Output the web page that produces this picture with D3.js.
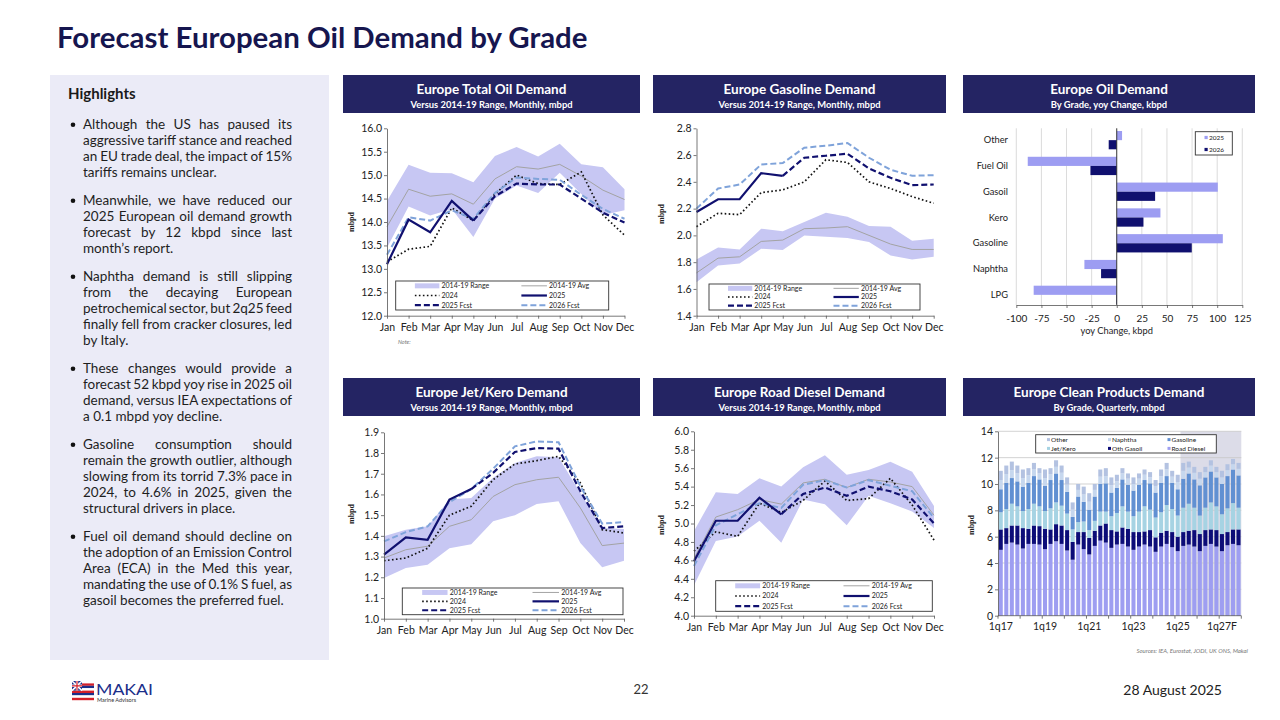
<!DOCTYPE html>
<html>
<head>
<meta charset="utf-8">
<script src="https://cdn.jsdelivr.net/npm/d3@7"></script>
<style>
  body { margin: 0; background: #fff; }
  svg { display: block; font-family: Lato, "Open Sans", sans-serif; }
</style>
</head>
<body>
<svg id="page" width="1280" height="720"></svg>
<script>
// ---- data ----
const months = ["Jan","Feb","Mar","Apr","May","Jun","Jul","Aug","Sep","Oct","Nov","Dec"];
const legendLabels = ["2014-19 Range","2014-19 Avg","2024","2025","2025 Fcst","2026 Fcst"];

// Europe total oil demand, mbpd
const totLo   = [13.45,14.33,14.14,14.28,13.68,14.5,14.78,14.62,15.05,14.6,14.15,14.25];
const totHi   = [14.45,15.22,15.05,15.04,14.85,15.41,15.6,15.4,15.67,15.23,15.17,14.7];
const totAvg  = [13.9,14.7,14.55,14.6,14.38,14.92,15.18,15.13,15.23,14.98,14.68,14.48];
const tot2024 = [13.15,13.42,13.48,14.3,14.03,14.6,15.0,14.82,14.8,15.07,14.15,13.72];
const tot2025 = [13.1,14.05,13.78,14.45,14.03,null,null,null,null,null,null,null];
const tot2025F= [null,null,null,null,14.03,14.55,14.82,14.8,14.8,14.5,14.2,13.99];
const tot2026F= [13.3,14.1,14.03,14.25,14.07,14.62,14.95,14.92,14.9,14.58,14.28,14.07];
const totTicks = [12.0,12.5,13.0,13.5,14.0,14.5,15.0,15.5,16.0];

// Europe gasoline demand, mbpd
const gasLo   = [1.65,1.775,1.79,1.9,1.89,2.0,1.99,1.98,1.95,1.85,1.82,1.84];
const gasHi   = [1.82,1.91,1.895,2.05,2.03,2.1,2.17,2.14,2.07,2.065,1.96,1.975];
const gasAvg  = [1.72,1.83,1.84,1.955,1.965,2.05,2.055,2.065,2.0,1.935,1.895,1.895];
const gas2024 = [2.065,2.165,2.155,2.32,2.34,2.4,2.565,2.545,2.4,2.35,2.29,2.24];
const gas2025 = [2.175,2.27,2.27,2.465,2.445,null,null,null,null,null,null,null];
const gas2025F= [null,null,null,null,2.445,2.58,2.595,2.61,2.5,2.43,2.375,2.38];
const gas2026F= [2.2,2.35,2.38,2.53,2.54,2.655,2.67,2.69,2.58,2.49,2.445,2.45];
const gasTicks = [1.4,1.6,1.8,2.0,2.2,2.4,2.6,2.8];

// Europe jet/kero demand, mbpd
const jetLo   = [1.196,1.245,1.26,1.34,1.36,1.47,1.5,1.554,1.567,1.365,1.248,1.28];
const jetHi   = [1.398,1.43,1.446,1.575,1.583,1.68,1.752,1.784,1.78,1.607,1.438,1.433];
const jetAvg  = [1.293,1.333,1.35,1.446,1.478,1.59,1.647,1.671,1.683,1.535,1.353,1.365];
const jet2024 = [1.28,1.293,1.34,1.5,1.543,1.671,1.747,1.763,1.784,1.655,1.43,1.414];
const jet2025 = [1.309,1.393,1.381,1.575,1.626,null,null,null,null,null,null,null];
const jet2025F= [null,null,null,null,1.626,1.704,1.805,1.824,1.821,1.615,1.438,1.446];
const jet2026F= [1.373,1.418,1.446,1.563,1.626,1.724,1.832,1.856,1.852,1.64,1.459,1.467];
const jetTicks = [1.0,1.1,1.2,1.3,1.4,1.5,1.6,1.7,1.8,1.9];

// Europe road diesel demand, mbpd
const dslLo   = [4.33,4.81,4.86,5.03,4.79,5.26,5.21,4.98,5.3,5.22,5.13,4.95];
const dslHi   = [4.92,5.34,5.32,5.49,5.4,5.61,5.74,5.53,5.58,5.67,5.56,5.19];
const dslAvg  = [4.62,5.07,5.15,5.26,5.21,5.44,5.48,5.39,5.48,5.45,5.4,5.09];
const dsl2024 = [4.7,4.91,4.86,5.22,5.12,5.25,5.46,5.25,5.27,5.49,5.2,4.82];
const dsl2025 = [4.59,5.03,5.03,5.28,5.1,null,null,null,null,null,null,null];
const dsl2025F= [null,null,null,null,5.1,5.32,5.39,5.3,5.4,5.35,5.26,5.0];
const dsl2026F= [4.54,4.98,5.1,5.22,5.17,5.42,5.47,5.39,5.47,5.41,5.35,5.06];
const dslTicks = [4.0,4.2,4.4,4.6,4.8,5.0,5.2,5.4,5.6,5.8,6.0];

// Europe oil demand by grade, yoy change, kbpd
const grades    = ["Other","Fuel Oil","Gasoil","Kero","Gasoline","Naphtha","LPG"];
const grade2025 = [5.3,-88.6,100.6,43.5,105.6,-32.2,-82.7];
const grade2026 = [-8,-26.2,38.2,26.6,74.7,-15.6,-0.5];
const gradeTicks = [-100,-75,-50,-25,0,25,50,75,100,125];

// Europe clean products demand by grade, quarterly, mbpd
const quarters = ["1q17","2q17","3q17","4q17","1q18","2q18","3q18","4q18","1q19","2q19","3q19","4q19",
  "1q20","2q20","3q20","4q20","1q21","2q21","3q21","4q21","1q22","2q22","3q22","4q22",
  "1q23","2q23","3q23","4q23","1q24","2q24","3q24","4q24","1q25","2q25","3q25","4q25",
  "1q26","2q26","3q26","4q26","1q27","2q27","3q27","4q27"];
const cpRoadDiesel = [5.0,5.45,5.55,5.4, 5.1,5.45,5.45,5.4, 5.05,5.45,5.65,5.45, 4.95,4.25,5.4,5.05,
  4.65,5.3,5.7,5.55, 5.15,5.4,5.45,5.25, 5.0,5.25,5.4,5.25, 4.85,5.25,5.45,5.2, 4.9,5.3,5.4,5.25,
  4.9,5.3,5.45,5.25, 4.9,5.35,5.45,5.35];
const cpOthGasoil = [1.55,1.2,1.3,1.45, 1.55,1.15,1.4,1.4, 1.55,1.1,1.3,1.4, 1.55,1.35,0.95,1.3,
  1.25,1.15,1.15,1.45, 1.35,1.0,1.25,1.35, 1.35,1.1,1.0,1.25, 1.1,1.05,1.0,1.15, 1.1,1.05,1.05,1.25,
  1.3,1.2,1.1,1.25, 1.3,1.0,1.1,1.2];
const cpJetKero = [1.3,1.45,1.65,1.45, 1.3,1.5,1.65,1.5, 1.35,1.6,1.65,1.5, 1.25,0.95,0.75,0.8,
  0.6,0.75,1.05,0.9, 1.05,1.4,1.6,1.3, 1.2,1.55,1.9,1.55, 1.5,1.55,1.95,1.75, 1.6,1.85,2.05,1.7,
  1.4,1.7,2.05,1.8, 1.5,1.8,2.0,1.65];
const cpGasoline = [1.75,2.0,1.95,1.9, 1.85,2.0,2.1,2.05, 1.9,2.15,2.2,1.95, 1.65,0.95,1.95,1.5,
  1.55,1.85,2.1,2.15, 1.8,1.9,2.05,2.05, 1.95,2.05,2.0,2.0, 1.9,2.25,2.2,2.0, 2.0,2.2,2.3,2.15,
  2.3,2.3,2.35,2.2, 2.3,2.45,2.55,2.45];
const cpNaphtha = [0.7,0.65,0.6,0.6, 0.65,0.55,0.5,0.45, 0.6,0.45,0.5,0.55, 0.55,0.55,0.5,0.55,
  0.6,0.5,0.55,0.55, 0.55,0.5,0.45,0.45, 0.5,0.45,0.4,0.45, 0.5,0.5,0.5,0.45, 0.55,0.6,0.45,0.5,
  0.5,0.4,0.45,0.4, 0.5,0.45,0.4,0.5];
const cpOther = [0.7,0.65,0.65,0.6, 0.65,0.55,0.5,0.4, 0.65,0.45,0.5,0.55, 0.55,0.55,0.45,0.6,
  0.65,0.45,0.55,0.6, 0.6,0.5,0.4,0.4, 0.5,0.4,0.4,0.4, 0.45,0.5,0.5,0.45, 0.55,0.6,0.45,0.45,
  0.5,0.4,0.4,0.4, 0.5,0.45,0.4,0.45];
const cpTicks = [0,2,4,6,8,10,12,14];
const cpTickQ = ["1q17","1q19","1q21","1q23","1q25","1q27"];
const cpTickText = ["1q17","1q19","1q21","1q23","1q25","1q27F"];
const cpFirstFcst = "2q25";

// highlights, one entry per printed line
const highlights = [
  ["Although the US has paused its", "aggressive tariff stance and reached", "an EU trade deal, the impact of 15%", "tariffs remains unclear."],
  ["Meanwhile, we have reduced our", "2025 European oil demand growth", "forecast by 12 kbpd since last", "month\u2019s report."],
  ["Naphtha demand is still slipping", "from the decaying European", "petrochemical sector, but 2q25 feed", "finally fell from cracker closures, led", "by Italy."],
  ["These changes would provide a", "forecast 52 kbpd yoy rise in 2025 oil", "demand, versus IEA expectations of", "a 0.1 mbpd yoy decline."],
  ["Gasoline consumption should", "remain the growth outlier, although", "slowing from its torrid 7.3% pace in", "2024, to 4.6% in 2025, given the", "structural drivers in place."],
  ["Fuel oil demand should decline on", "the adoption of an Emission Control", "Area (ECA) in the Med this year,", "mandating the use of 0.1% S fuel, as", "gasoil becomes the preferred fuel."]
];

// ---- colours ----
const NAVY = "#10106f", LIGHTB = "#7fa3da", BAND = "#c7c7f3", AVG = "#a3a3a3", HEAD = "#242463";

const svg = d3.select("#page");

// page title
svg.append("text").attr("x", 57).attr("y", 48)
  .attr("font-size", 29.4).attr("font-weight", 700).attr("fill", "#16164f")
  .text("Forecast European Oil Demand by Grade");

// highlights panel
svg.append("rect").attr("x", 50).attr("y", 75).attr("width", 279).attr("height", 585).attr("fill", "#ebebf7");
svg.append("text").attr("x", 68).attr("y", 98.5).attr("font-size", 15).attr("font-weight", 700)
  .attr("fill", "#1a1a1a").text("Highlights");

const hl = svg.append("g").attr("font-size", 13.5).attr("fill", "#1e1e1e");
let yy = 129;
highlights.forEach(p => {
  hl.append("circle").attr("cx", 73).attr("cy", yy - 4.3).attr("r", 2.3).attr("fill", "#111");
  p.forEach((ln, k) => {
    const t = hl.append("text").attr("x", 83).attr("y", yy).text(ln);
    if (k < p.length - 1) {
      const w = t.node().getComputedTextLength();
      const gaps = ln.split(" ").length - 1;
      t.style("word-spacing", ((209 - w) / gaps) + "px");
    }
    yy += 16;
  });
  yy += 12;
});

// chart header boxes
function header(x, y, w, title, sub) {
  svg.append("rect").attr("x", x).attr("y", y).attr("width", w).attr("height", 38).attr("fill", HEAD);
  svg.append("text").attr("x", x + w / 2).attr("y", y + 18.5).attr("text-anchor", "middle")
    .attr("font-size", 13.5).attr("font-weight", 700).attr("fill", "#fff").text(title);
  svg.append("text").attr("x", x + w / 2).attr("y", y + 32.5).attr("text-anchor", "middle")
    .attr("font-size", 9.4).attr("font-weight", 700).attr("fill", "#fff").text(sub);
}
header(343, 75, 297, "Europe Total Oil Demand", "Versus 2014-19 Range, Monthly, mbpd");
header(653, 75, 293, "Europe Gasoline Demand", "Versus 2014-19 Range, Monthly, mbpd");
header(963, 75, 292, "Europe Oil Demand", "By Grade, yoy Change, kbpd");
header(343, 378, 297, "Europe Jet/Kero Demand", "Versus 2014-19 Range, Monthly, mbpd");
header(653, 378, 293, "Europe Road Diesel Demand", "Versus 2014-19 Range, Monthly, mbpd");
header(963, 378, 292, "Europe Clean Products Demand", "By Grade, Quarterly, mbpd");

function styleAxis(a) {
  a.selectAll("path").attr("stroke", "#555").attr("stroke-width", 0.8);
  a.selectAll("line").attr("stroke", "#555").attr("stroke-width", 0.8);
  a.selectAll("text").attr("fill", "#222").attr("font-family", "Lato, sans-serif");
}

function yLabel(x, y) {
  svg.append("text").attr("transform", `translate(${x},${y}) rotate(-90)`)
    .attr("text-anchor", "middle").attr("font-family", "'Liberation Serif', serif")
    .attr("font-weight", 700).attr("font-size", 8).attr("fill", "#222").text("mbpd");
}

// ---- monthly line charts ----
function lineChart(o) {
  const g = svg.append("g");
  const x = d3.scalePoint().domain(months).range([o.x0, o.x1]);
  const y = d3.scaleLinear().domain(o.dom).range([o.y1, o.y0]);

  const area = d3.area().x((d, i) => x(months[i])).y0((d, i) => y(o.lo[i])).y1(d => y(d));
  g.append("path").datum(o.hi).attr("d", area).attr("fill", BAND);

  const line = d3.line().defined(d => d != null).x((d, i) => x(months[i])).y(d => y(d));
  g.append("path").datum(o.avg).attr("d", line).attr("fill", "none").attr("stroke", AVG).attr("stroke-width", 1);
  g.append("path").datum(o.s24).attr("d", line).attr("fill", "none").attr("stroke", "#111")
    .attr("stroke-width", 1.7).attr("stroke-dasharray", "1.6 2.4");
  g.append("path").datum(o.s26f).attr("d", line).attr("fill", "none").attr("stroke", LIGHTB)
    .attr("stroke-width", 2).attr("stroke-dasharray", "6 3");
  g.append("path").datum(o.s25f).attr("d", line).attr("fill", "none").attr("stroke", NAVY)
    .attr("stroke-width", 2.2).attr("stroke-dasharray", "6 3");
  g.append("path").datum(o.s25).attr("d", line).attr("fill", "none").attr("stroke", NAVY)
    .attr("stroke-width", 2.2);

  const ya = g.append("g").attr("transform", `translate(${o.x0},0)`)
    .call(d3.axisLeft(y).tickValues(o.ticks).tickFormat(d3.format(".1f")).tickSize(3).tickSizeOuter(0).tickPadding(2));
  ya.attr("font-size", 10.5);
  styleAxis(ya);
  const xa = g.append("g").attr("transform", `translate(0,${o.y1})`)
    .call(d3.axisBottom(x).tickSize(3).tickSizeOuter(0).tickPadding(4.5));
  xa.attr("font-size", 10.5);
  styleAxis(xa);

  // legend
  const [bx, by, bw, bh] = o.leg;
  const lg = g.append("g");
  lg.append("rect").attr("x", bx).attr("y", by).attr("width", bw).attr("height", bh)
    .attr("fill", "#fff").attr("stroke", "#333").attr("stroke-width", 0.9);
  const sty = [
    { c: BAND, w: 5 }, { c: AVG, w: 1 }, { c: "#111", w: 1.7, d: "1.6 2.4" },
    { c: NAVY, w: 2.2 }, { c: NAVY, w: 2.2, d: "6 3" }, { c: LIGHTB, w: 2, d: "6 3" }
  ];
  legendLabels.forEach((lab, i) => {
    const col = i % 2, row = Math.floor(i / 2);
    const ly = by + bh * (1 + 2 * row) / 6;
    const sx0 = bx + bw * (col ? 0.59 : 0.09), sx1 = bx + bw * (col ? 0.71 : 0.205);
    const ln = lg.append("line").attr("x1", sx0).attr("x2", sx1).attr("y1", ly).attr("y2", ly)
      .attr("stroke", sty[i].c).attr("stroke-width", sty[i].w);
    if (sty[i].d) ln.attr("stroke-dasharray", sty[i].d);
    lg.append("text").attr("x", bx + bw * (col ? 0.72 : 0.215)).attr("y", ly + 2.4)
      .attr("font-size", 7).attr("fill", "#222").text(lab);
  });
}

lineChart({ x0: 387, x1: 624.5, y0: 128.3, y1: 315.7, dom: [12, 16], ticks: totTicks,
  lo: totLo, hi: totHi, avg: totAvg, s24: tot2024, s25: tot2025, s25f: tot2025F, s26f: tot2026F,
  leg: [395.7, 281, 213, 29] });
yLabel(354, 222);
svg.append("text").attr("x", 398).attr("y", 344).attr("font-size", 5.5).attr("font-style", "italic")
  .attr("fill", "#777").text("Note:");

lineChart({ x0: 696.5, x1: 933.7, y0: 128.3, y1: 315.7, dom: [1.4, 2.8], ticks: gasTicks,
  lo: gasLo, hi: gasHi, avg: gasAvg, s24: gas2024, s25: gas2025, s25f: gas2025F, s26f: gas2026F,
  leg: [709, 284, 211, 26] });
yLabel(664, 214);

lineChart({ x0: 384, x1: 624, y0: 432.3, y1: 618.7, dom: [1.0, 1.9], ticks: jetTicks,
  lo: jetLo, hi: jetHi, avg: jetAvg, s24: jet2024, s25: jet2025, s25f: jet2025F, s26f: jet2026F,
  leg: [402.3, 588, 220.7, 26.7] });
yLabel(354, 514);

lineChart({ x0: 694, x1: 934, y0: 431.3, y1: 615.7, dom: [4.0, 6.0], ticks: dslTicks,
  lo: dslLo, hi: dslHi, avg: dslAvg, s24: dsl2024, s25: dsl2025, s25f: dsl2025F, s26f: dsl2026F,
  leg: [715.7, 580.7, 216.6, 30.6] });
yLabel(664, 525);

// ---- grade bar chart ----
(function () {
  const g = svg.append("g");
  const x = d3.scaleLinear().domain([-100, 125]).range([1016.3, 1242.3]);
  const y = d3.scaleBand().domain(grades).range([131, 304]).paddingInner(0.29);
  const sub = d3.scaleBand().domain(["2025", "2026"]).range([0, y.bandwidth()]);
  const top = 128.3, bot = 305;

  g.selectAll(".grid").data(gradeTicks.filter(t => t !== 0)).join("line")
    .attr("x1", d => x(d)).attr("x2", d => x(d)).attr("y1", top).attr("y2", bot)
    .attr("stroke", "#d2d2d2").attr("stroke-width", 0.8);

  const bars = [{ k: "2025", v: grade2025, c: "#9d9df2" }, { k: "2026", v: grade2026, c: NAVY }];
  bars.forEach(s => {
    g.selectAll(null).data(grades).join("rect")
      .attr("x", (d, i) => x(Math.min(0, s.v[i])))
      .attr("width", (d, i) => Math.abs(x(s.v[i]) - x(0)))
      .attr("y", d => y(d) + sub(s.k)).attr("height", sub.bandwidth())
      .attr("fill", s.c);
  });
  g.append("line").attr("x1", x(0)).attr("x2", x(0)).attr("y1", top).attr("y2", bot)
    .attr("stroke", "#333").attr("stroke-width", 1);

  const xa = g.append("g").attr("transform", `translate(0,${bot})`)
    .call(d3.axisBottom(x).tickValues(gradeTicks).tickFormat(d => String(d)).tickSize(3).tickSizeOuter(0).tickPadding(7));
  xa.attr("font-size", 10);
  styleAxis(xa);

  g.selectAll(".cat").data(grades).join("text")
    .attr("x", 1008).attr("y", d => y(d) + y.bandwidth() / 2 + 3)
    .attr("text-anchor", "end").attr("font-size", 9.3).attr("fill", "#222").text(d => d);
  g.append("text").attr("x", x(0)).attr("y", 334).attr("text-anchor", "middle")
    .attr("font-size", 9.3).attr("fill", "#222").text("yoy Change, kbpd");

  const lg = g.append("g");
  lg.append("rect").attr("x", 1195.3).attr("y", 131.7).attr("width", 37).attr("height", 23.3)
    .attr("fill", "#fff").attr("stroke", "#333").attr("stroke-width", 0.9);
  bars.forEach((s, i) => {
    const ly = 137.5 + i * 12;
    lg.append("rect").attr("x", 1204.5).attr("y", ly - 1.6).attr("width", 3.2).attr("height", 3.2).attr("fill", s.c);
    lg.append("text").attr("x", 1209).attr("y", ly + 2.3).attr("font-size", 6.5).attr("fill", "#222").text(s.k);
  });
})();

// ---- clean products stacked bars ----
(function () {
  const g = svg.append("g");
  const x = d3.scaleBand().domain(quarters).range([998, 1241.3]).paddingInner(0.27).paddingOuter(0.135);
  const y = d3.scaleLinear().domain([0, 14]).range([615.7, 431.3]);
  const keys = ["Road Diesel", "Oth Gasoil", "Jet/Kero", "Gasoline", "Naphtha", "Other"];
  const vals = [cpRoadDiesel, cpOthGasoil, cpJetKero, cpGasoline, cpNaphtha, cpOther];
  const cols = { "Road Diesel": "#9e9ef1", "Oth Gasoil": "#0c0c78", "Jet/Kero": "#a6d3e3",
    "Gasoline": "#6190d2", "Naphtha": "#c6d7ee", "Other": "#b3c2e1" };
  const rows = quarters.map((q, i) => { const r = { q }; keys.forEach((k, j) => r[k] = vals[j][i]); return r; });
  const stack = d3.stack().keys(keys)(rows);
  const step = x.step();

  const fx = x(cpFirstFcst) - step * x.paddingInner() / 2;
  g.append("rect").attr("x", fx).attr("y", y(14)).attr("width", 1241.3 - fx).attr("height", y(0) - y(14))
    .attr("fill", "#dcdce8");

  g.selectAll(".grid").data(cpTicks.filter(t => t > 0)).join("line")
    .attr("x1", 998).attr("x2", 1241.3).attr("y1", d => y(d)).attr("y2", d => y(d))
    .attr("stroke", "#c8c8c8").attr("stroke-width", 0.8);

  g.selectAll(".layer").data(stack).join("g").attr("fill", d => cols[d.key])
    .selectAll("rect").data(d => d).join("rect")
    .attr("x", d => x(d.data.q)).attr("width", x.bandwidth())
    .attr("y", d => y(d[1])).attr("height", d => y(d[0]) - y(d[1]));

  const ya = g.append("g").attr("transform", "translate(998,0)")
    .call(d3.axisLeft(y).tickValues(cpTicks).tickSize(3).tickSizeOuter(0).tickPadding(2));
  ya.attr("font-size", 10.5);
  styleAxis(ya);

  // x axis: line, yearly ticks, sparse labels
  g.append("line").attr("x1", 998).attr("x2", 1241.3).attr("y1", y(0)).attr("y2", y(0))
    .attr("stroke", "#555").attr("stroke-width", 0.8);
  g.selectAll(".yt").data(d3.range(0, quarters.length + 1, 4)).join("line")
    .attr("x1", k => 998 + step * k).attr("x2", k => 998 + step * k)
    .attr("y1", y(0)).attr("y2", y(0) + 3).attr("stroke", "#555").attr("stroke-width", 0.8);
  g.selectAll(".xl").data(cpTickQ).join("text")
    .attr("x", d => x(d) + x.bandwidth() / 2).attr("y", 630).attr("text-anchor", "middle")
    .attr("font-size", 10.5).attr("fill", "#222").text((d, i) => cpTickText[i]);

  // legend
  const lg = g.append("g");
  lg.append("rect").attr("x", 1035.7).attr("y", 434.7).attr("width", 180.6).attr("height", 18.3)
    .attr("fill", "#fff").attr("stroke", "#333").attr("stroke-width", 0.9);
  const order = ["Other", "Naphtha", "Gasoline", "Jet/Kero", "Oth Gasoil", "Road Diesel"];
  const colX = [1047, 1108, 1167.5];
  order.forEach((k, i) => {
    const cx = colX[i % 3], ly = i < 3 ? 439.6 : 448.4;
    lg.append("rect").attr("x", cx).attr("y", ly - 1.5).attr("width", 3).attr("height", 3).attr("fill", cols[k]);
    lg.append("text").attr("x", cx + 4).attr("y", ly + 2.3).attr("font-size", 6.5).attr("fill", "#222").text(k);
  });
})();
yLabel(974, 525);

svg.append("text").attr("x", 1248).attr("y", 653).attr("text-anchor", "end")
  .attr("font-size", 6).attr("font-style", "italic").attr("fill", "#777")
  .text("Sources: IEA, Eurostat, JODI, UK ONS, Makai");

// ---- footer ----
const logo = svg.append("g").attr("transform", "translate(72,681)");
const stripeCols = ["#ffffff", "#d4202a", "#1b2f8a", "#ffffff", "#d4202a", "#1b2f8a", "#ffffff", "#d4202a"];
stripeCols.forEach((c, i) => logo.append("rect").attr("x", 0).attr("y", i * 2.4).attr("width", 22).attr("height", 2.4).attr("fill", c));
logo.append("rect").attr("width", 10).attr("height", 9.6).attr("fill", "#1b2f8a");
logo.append("path").attr("d", "M0,0L10,9.6M10,0L0,9.6").attr("stroke", "#fff").attr("stroke-width", 1.6);
logo.append("path").attr("d", "M5,0V9.6M0,4.8H10").attr("stroke", "#fff").attr("stroke-width", 2.4);
logo.append("path").attr("d", "M5,0V9.6M0,4.8H10").attr("stroke", "#d4202a").attr("stroke-width", 1.2);
svg.append("text").attr("x", 96).attr("y", 695).attr("font-size", 16).attr("fill", "#1b2f8a")
  .attr("textLength", 57).attr("lengthAdjust", "spacingAndGlyphs").text("MAKAI");
svg.append("text").attr("x", 97).attr("y", 702).attr("font-size", 5.5).attr("fill", "#333").text("Marine Advisors");
svg.append("text").attr("x", 641).attr("y", 694).attr("text-anchor", "middle").attr("font-size", 13).attr("fill", "#333").text("22");
svg.append("text").attr("x", 1222).attr("y", 695).attr("text-anchor", "end").attr("font-size", 14).attr("fill", "#222").text("28 August 2025");
</script>
</body>
</html>
